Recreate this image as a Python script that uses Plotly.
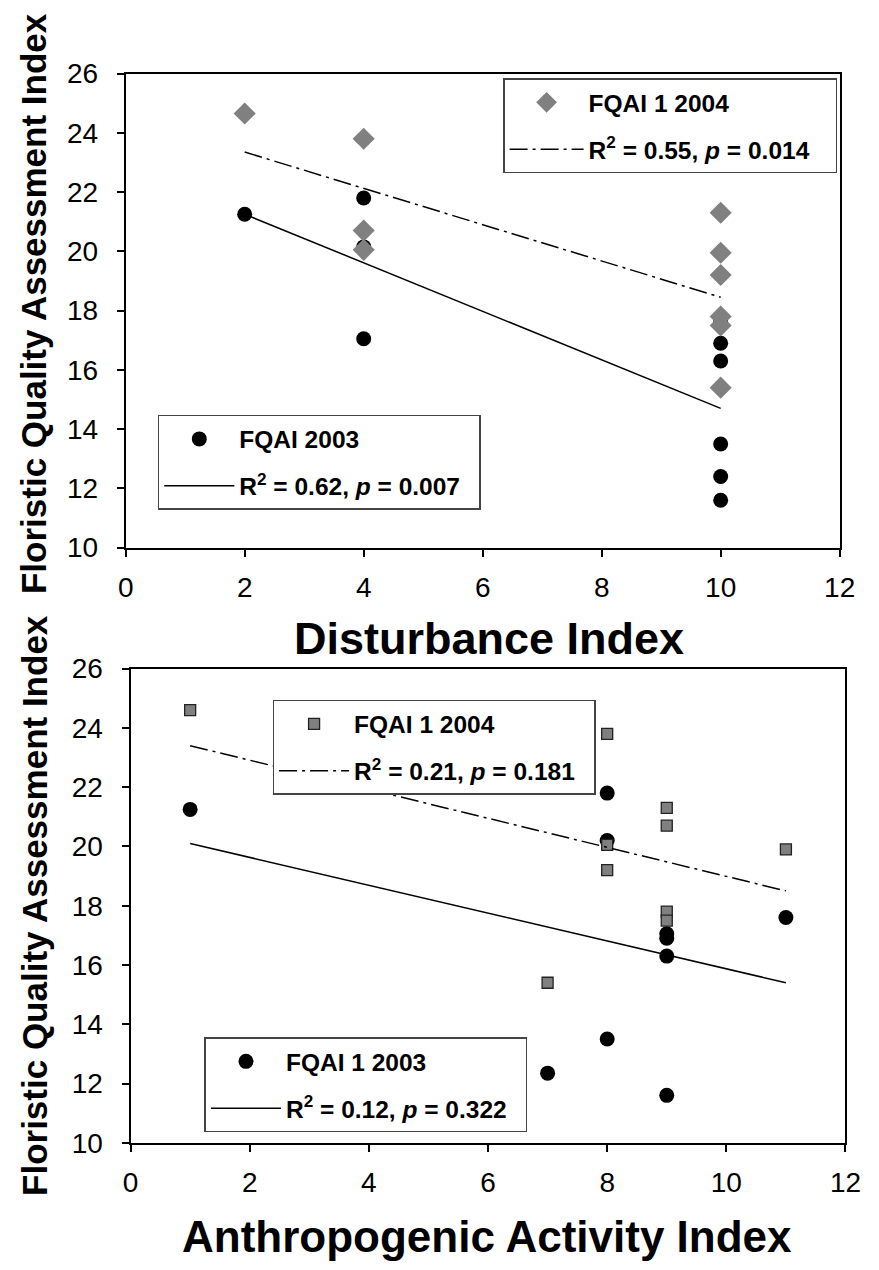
import plotly.graph_objects as go

W, H = 879, 1270

# ---- Panel A: FQAI vs Disturbance Index ----
dist_2003_x = [2, 4, 4, 4, 10, 10, 10, 10, 10, 10]
dist_2003_y = [21.25, 21.8, 20.15, 17.05, 17.6, 16.9, 16.3, 13.5, 12.4, 11.6]
dist_2004_x = [2, 4, 4, 4, 10, 10, 10, 10, 10, 10]
dist_2004_y = [24.65, 23.8, 20.7, 20.05, 21.3, 19.95, 19.2, 17.8, 17.5, 15.4]
dist_fit_x = [2, 10]
dist_fit_2003 = [21.25, 14.7]
dist_fit_2004 = [23.35, 18.45]

# ---- Panel B: FQAI vs Anthropogenic Activity Index ----
anth_2003_x = [1, 8, 8, 8, 9, 9, 9, 9, 7, 11]
anth_2003_y = [21.25, 21.8, 20.2, 13.5, 17.05, 16.9, 16.3, 11.6, 12.35, 17.6]
anth_2004_x = [1, 8, 8, 8, 9, 9, 9, 9, 7, 11]
anth_2004_y = [24.6, 23.8, 20.05, 19.2, 21.3, 20.7, 17.8, 17.5, 15.4, 19.9]
anth_fit_x = [1, 11]
anth_fit_2003 = [20.1, 15.4]
anth_fit_2004 = [23.4, 18.5]

x_ticks = [0, 2, 4, 6, 8, 10, 12]
y_ticks = [10, 12, 14, 16, 18, 20, 22, 24, 26]

FONT = "Arial, Liberation Sans, sans-serif"
GRAY = "#808080"
DASHDOT = "18px,5px,3px,5px"
PAD = "\u00a0\u00a0"  # a little right-hand room inside the legend boxes

leg_2004_top = "<b>R<sup>2</sup> = 0.55, <i>p</i> = 0.014</b>" + PAD + "\u00a0"
leg_2003_top = "<b>R<sup>2</sup> = 0.62, <i>p</i> = 0.007</b>" + PAD
leg_2004_bot = "<b>R<sup>2</sup> = 0.21, <i>p</i> = 0.181</b>" + PAD
leg_2003_bot = "<b>R<sup>2</sup> = 0.12, <i>p</i> = 0.322</b>" + PAD

fig = go.Figure()

# panel A traces (circles first so the diamonds sit on top)
fig.add_trace(go.Scatter(x=dist_2003_x, y=dist_2003_y, mode="markers", name="<b>FQAI 2003</b>",
                         marker=dict(symbol="circle", size=15, color="black"),
                         legend="legend2", legendgroup="a1", xaxis="x", yaxis="y"))
fig.add_trace(go.Scatter(x=dist_fit_x, y=dist_fit_2003, mode="lines", name=leg_2003_top,
                         line=dict(color="black", width=1.5),
                         legend="legend2", legendgroup="a2", xaxis="x", yaxis="y"))
fig.add_trace(go.Scatter(x=dist_2004_x, y=dist_2004_y, mode="markers", name="<b>FQAI 1 2004</b>",
                         marker=dict(symbol="diamond", size=17, color=GRAY),
                         legend="legend", legendgroup="b1", xaxis="x", yaxis="y"))
fig.add_trace(go.Scatter(x=dist_fit_x, y=dist_fit_2004, mode="lines", name=leg_2004_top,
                         line=dict(color="black", width=1.5, dash=DASHDOT),
                         legend="legend", legendgroup="b2", xaxis="x", yaxis="y"))

# panel B traces
fig.add_trace(go.Scatter(x=anth_2003_x, y=anth_2003_y, mode="markers", name="<b>FQAI 1 2003</b>",
                         marker=dict(symbol="circle", size=15, color="black"),
                         legend="legend4", legendgroup="c1", xaxis="x2", yaxis="y2"))
fig.add_trace(go.Scatter(x=anth_fit_x, y=anth_fit_2003, mode="lines", name=leg_2003_bot,
                         line=dict(color="black", width=1.5),
                         legend="legend4", legendgroup="c2", xaxis="x2", yaxis="y2"))
fig.add_trace(go.Scatter(x=anth_2004_x, y=anth_2004_y, mode="markers", name="<b>FQAI 1 2004</b>",
                         marker=dict(symbol="square", size=11, color=GRAY,
                                     line=dict(color="#222222", width=1.3)),
                         legend="legend3", legendgroup="d1", xaxis="x2", yaxis="y2"))
fig.add_trace(go.Scatter(x=anth_fit_x, y=anth_fit_2004, mode="lines", name=leg_2004_bot,
                         line=dict(color="black", width=1.5, dash=DASHDOT),
                         legend="legend3", legendgroup="d2", xaxis="x2", yaxis="y2"))


def xaxis(domain, anchor):
    return dict(domain=domain, anchor=anchor, range=[0, 12], tickvals=x_ticks,
                showgrid=False, zeroline=False, showline=True, linecolor="black",
                linewidth=2, mirror=True, ticks="outside", ticklen=7, tickwidth=1.5,
                tickcolor="black", ticklabelstandoff=7,
                tickfont=dict(family=FONT, size=28, color="black"))


def yaxis(domain, anchor):
    return dict(domain=domain, anchor=anchor, range=[10, 26], tickvals=y_ticks,
                showgrid=False, zeroline=False, showline=True, linecolor="black",
                linewidth=2, mirror=True, ticks="outside", ticklen=7, tickwidth=1.5,
                tickcolor="black", ticklabelstandoff=13,
                tickfont=dict(family=FONT, size=28, color="black"))


def legend(x, y, iw=74):
    return dict(x=x, y=y, xanchor="left", yanchor="top", xref="paper", yref="paper",
                bgcolor="white", bordercolor="#444444", borderwidth=1.5,
                font=dict(family=FONT, size=24.5, color="black"),
                tracegroupgap=12, itemwidth=iw, itemclick=False)


fig.update_layout(
    width=W, height=H,
    margin=dict(l=0, r=0, t=0, b=0),
    paper_bgcolor="white", plot_bgcolor="white",
    xaxis=xaxis([121 / W, 855 / W], "y"),
    yaxis=yaxis([1 - 546 / H, 1 - 60 / H], "x"),
    xaxis2=xaxis([126 / W, 861 / W], "y2"),
    yaxis2=yaxis([1 - 1156 / H, 1 - 670 / H], "x2"),
    legend=legend(509 / W, 1 - 65 / H),
    legend2=legend(154 / W, 1 - 410 / H, 70),
    legend3=legend(272 / W, 1 - 702 / H, 70),
    legend4=legend(202 / W, 1 - 1048 / H, 70),
    showlegend=True,
    annotations=[
        dict(text="<b>Disturbance Index</b>", x=494 / W, y=1 - 639 / H,
             xref="paper", yref="paper", xanchor="center", yanchor="middle",
             showarrow=False, font=dict(family=FONT, size=45, color="black")),
        dict(text="<b>Anthropogenic Activity Index</b>", x=492 / W, y=1 - 1252 / H,
             xref="paper", yref="paper", xanchor="center", yanchor="middle",
             showarrow=False, font=dict(family=FONT, size=44, color="black")),
        dict(text="<b>Floristic Quality Assessment Index</b>", x=27 / W, y=1 - 296 / H,
             xref="paper", yref="paper", xanchor="center", yanchor="middle",
             textangle=-90, showarrow=False, font=dict(family=FONT, size=35, color="black")),
        dict(text="<b>Floristic Quality Assessment Index</b>", x=27 / W, y=1 - 913 / H,
             xref="paper", yref="paper", xanchor="center", yanchor="middle",
             textangle=-90, showarrow=False, font=dict(family=FONT, size=35, color="black")),
    ],
)

fig.write_html("out.html")
